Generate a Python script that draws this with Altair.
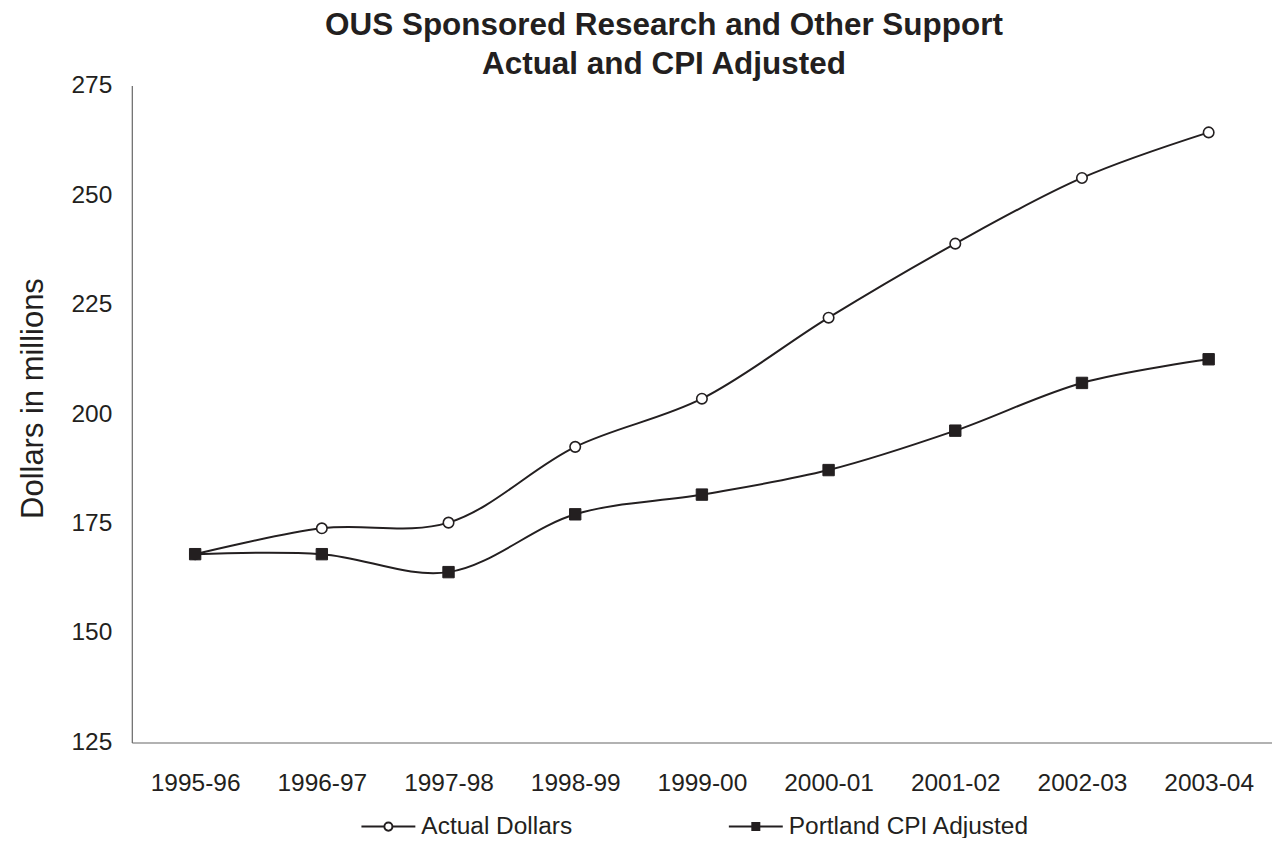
import altair as alt
import pandas as pd

years = ["1995-96", "1996-97", "1997-98", "1998-99", "1999-00",
         "2000-01", "2001-02", "2002-03", "2003-04"]
actual = [168.0, 173.9, 175.2, 192.5, 203.5, 222.0, 238.9, 253.9, 264.3]
cpi = [168.0, 168.0, 163.9, 177.1, 181.6, 187.2, 196.2, 207.1, 212.5]
series_names = ["Actual Dollars", "Portland CPI Adjusted"]
y_ticks = [125, 150, 175, 200, 225, 250, 275]

rows = []
for i, yr in enumerate(years):
    rows.append({"year": yr, "value": actual[i], "series": series_names[0]})
    rows.append({"year": yr, "value": cpi[i], "series": series_names[1]})
df = pd.DataFrame(rows)

INK = "#231f20"
FONT = "Liberation Sans"

circ_path = ("M-1,0L-0.15,0M0.15,0L1,0M-0.15,0A0.15,0.15 0 1,1 0.15,0"
             "A0.15,0.15 0 1,1 -0.15,0Z")
sq_path = ("M-1,0L-0.13,0M0.13,0L1,0M-0.13,-0.13L0.13,-0.13L0.13,0.13"
           "L-0.13,0.13Z")

x_enc = alt.X("year:N", sort=years, scale=alt.Scale(type="point", padding=0.5),
              axis=alt.Axis(title=None, labelAngle=0, ticks=False, grid=False,
                            labelFontSize=24.5, labelFont=FONT, labelColor=INK,
                            labelPadding=29, domainColor="#666", domainWidth=1.2))
y_enc = alt.Y("value:Q", scale=alt.Scale(domain=[125, 275], nice=False, zero=False),
              axis=alt.Axis(title="Dollars in millions", values=y_ticks, ticks=False,
                            grid=False, labelFontSize=24.5, labelFont=FONT,
                            labelColor=INK, labelPadding=20, domainColor="#666",
                            domainWidth=1.2, titleFontSize=31, titleFont=FONT,
                            titleFontWeight="normal", titleColor=INK,
                            titlePadding=22, titleY=313))

legend = alt.Legend(
    title=None, orient="none", direction="horizontal", legendX=229, legendY=714,
    labelFontSize=24.5, labelFont=FONT, labelColor=INK, labelLimit=600,
    symbolSize=2916, symbolStrokeWidth=2, symbolStrokeColor=INK,
    symbolOpacity=1, labelOffset=5, columnPadding=152,
)

lines = alt.Chart(df).mark_line(interpolate="catmull-rom", strokeWidth=2,
                                color=INK).encode(
    x=x_enc, y=y_enc, detail="series:N",
)

circles = alt.Chart(df).transform_filter(
    alt.datum.series == series_names[0]
).mark_point(shape="circle", filled=True, fill="white", stroke=INK,
             strokeWidth=1.6, opacity=1, size=110).encode(x=x_enc, y=y_enc)

squares = alt.Chart(df).transform_filter(
    alt.datum.series == series_names[1]
).mark_point(shape="square", filled=True, fill=INK, stroke=INK,
             strokeWidth=1, opacity=1, size=130).encode(x=x_enc, y=y_enc)

legend_layer = alt.Chart(df).mark_point(filled=False, strokeWidth=2,
                                        size=0).encode(
    x=x_enc, y=y_enc,
    shape=alt.Shape("series:N", scale=alt.Scale(domain=series_names,
                                                 range=[circ_path, sq_path]),
                    legend=legend),
    fill=alt.Fill("series:N", scale=alt.Scale(domain=series_names,
                                               range=["white", INK]),
                  legend=legend),
    stroke=alt.Stroke("series:N", scale=alt.Scale(domain=series_names,
                                                   range=[INK, INK]),
                      legend=legend),
)

chart = alt.layer(lines, circles, squares, legend_layer).properties(
    width=1142, height=658,
    autosize=alt.AutoSizeParams(type="none"),
    padding={"left": 124, "top": 77, "right": 0, "bottom": 95},
    title=alt.Title(["OUS Sponsored Research and Other Support",
                     "Actual and CPI Adjusted"],
                    fontSize=31.5, font=FONT, fontWeight="bold", color=INK,
                    anchor="middle", dx=-38, offset=-8, lineHeight=39),
).configure(background="white").configure_view(stroke="transparent", strokeWidth=0)

chart.save("out.html", embed_options={"renderer": "svg", "actions": False})
